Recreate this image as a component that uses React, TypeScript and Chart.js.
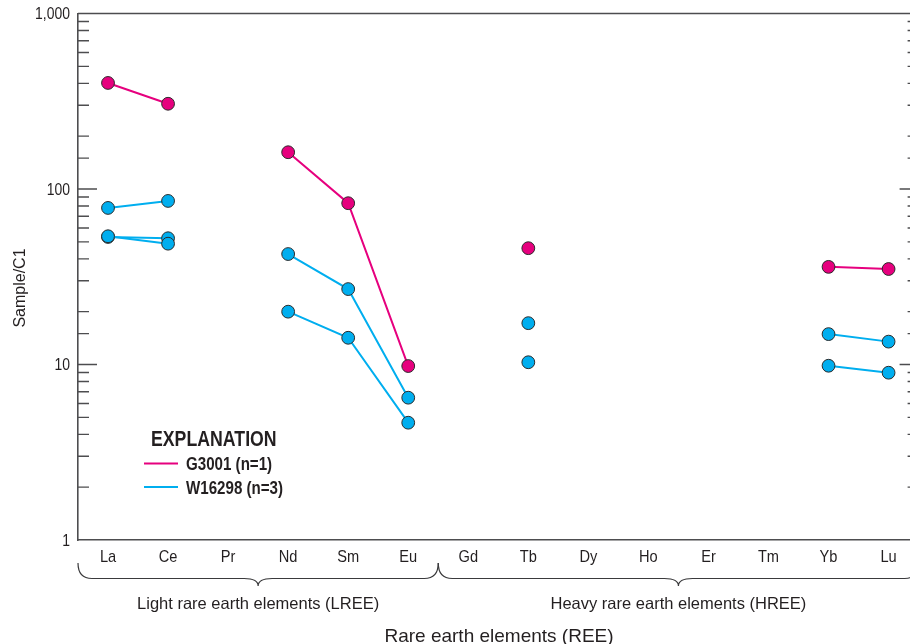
import React, { useEffect, useRef } from 'react';
import { Chart, registerables } from 'chart.js';

Chart.register(...registerables);

// ---------- data ----------
const elements = ['La', 'Ce', 'Pr', 'Nd', 'Sm', 'Eu', 'Gd', 'Tb', 'Dy', 'Ho', 'Er', 'Tm', 'Yb', 'Lu'];
const g3001 = [402, 306, null, 162, 83, 9.8, null, 46, null, null, null, null, 36, 35];
const w16298a = [78, 85.5, null, 42.6, 26.9, 6.47, null, 17.2, null, null, null, null, 14.9, 13.5];
const w16298b = [53.3, 52.4, null, 20.0, 14.2, 4.66, null, 10.3, null, null, null, null, 9.84, 8.98];
const w16298c = [53.8, 48.8, null, null, null, null, null, null, null, null, null, null, null, null];
const yTickValues = [1, 10, 100, 1000];
const yTickLabels = ['1', '10', '100', '1,000'];
const groupLabels = ['Light rare earth elements (LREE)', 'Heavy rare earth elements (HREE)'];
const groupFirst = [0, 6];
const groupLast = [5, 13];
const legendLabels = ['G3001 (n=1)', 'W16298 (n=3)'];
const legendTitle = 'EXPLANATION';
const xTitle = 'Rare earth elements (REE)';
const yTitle = 'Sample/C1';

const MAGENTA = '#E6007E';
const CYAN = '#00AEEF';
const seriesColors = [MAGENTA, CYAN];
const INK = '#231F20';
const AXIS = '#4D4D4F';

const FONT = "'Liberation Sans', Arial, sans-serif";

function condensedText(ctx: any, text: string, x: number, y: number, sx: number, align: string) {
  ctx.save();
  ctx.translate(x, y);
  ctx.scale(sx, 1);
  ctx.textAlign = align;
  ctx.fillText(text, 0, 0);
  ctx.restore();
}

const decorPlugin = {
  id: 'decor',
  beforeDatasetsDraw(chart: any) {
    const { ctx, chartArea } = chart;
    const y = chart.scales.y;
    ctx.save();
    ctx.strokeStyle = AXIS;
    ctx.lineWidth = 1.4;
    // top frame and right frame
    ctx.beginPath();
    ctx.moveTo(chartArea.left, chartArea.top);
    ctx.lineTo(chartArea.right, chartArea.top);
    ctx.lineTo(chartArea.right, chartArea.bottom);
    ctx.stroke();
    // inward tick marks on left and right
    y.ticks.forEach((t: any) => {
      const lg = Math.log10(t.value);
      const major = Math.abs(lg - Math.round(lg)) < 1e-6;
      const py = y.getPixelForValue(t.value);
      if (py <= chartArea.top + 1 || py >= chartArea.bottom - 1) return;
      const len = major ? 19 : 11;
      ctx.beginPath();
      ctx.moveTo(chartArea.left, py);
      ctx.lineTo(chartArea.left + len, py);
      ctx.moveTo(chartArea.right, py);
      ctx.lineTo(chartArea.right - len, py);
      ctx.stroke();
    });
    ctx.restore();
  },
  afterDraw(chart: any) {
    const { ctx, chartArea } = chart;
    const x = chart.scales.x;
    const y = chart.scales.y;
    const half = (x.getPixelForValue(1) - x.getPixelForValue(0)) / 2;
    ctx.save();
    ctx.fillStyle = INK;
    // tick labels
    ctx.font = `17px ${FONT}`;
    ctx.textBaseline = 'middle';
    yTickValues.forEach((v, i) => {
      condensedText(ctx, yTickLabels[i], chartArea.left - 8, y.getPixelForValue(v) + 1, 0.82, 'right');
    });
    ctx.textBaseline = 'alphabetic';
    elements.forEach((el, i) => {
      condensedText(ctx, el, x.getPixelForValue(i), 561.5, 0.86, 'center');
    });
    // braces
    ctx.strokeStyle = '#3A3A3C';
    ctx.lineWidth = 1.2;
    const yTop = 563;
    const yFlat = 578.5;
    const yTip = 586;
    const r = 14;
    groupLabels.forEach((label, i) => {
      const xl = x.getPixelForValue(groupFirst[i]) - half;
      const xr = x.getPixelForValue(groupLast[i]) + half;
      const xc = (xl + xr) / 2;
      ctx.beginPath();
      ctx.moveTo(xl, yTop);
      ctx.quadraticCurveTo(xl, yFlat, xl + r, yFlat);
      ctx.lineTo(xc - r, yFlat);
      ctx.quadraticCurveTo(xc, yFlat, xc, yTip);
      ctx.quadraticCurveTo(xc, yFlat, xc + r, yFlat);
      ctx.lineTo(xr - r, yFlat);
      ctx.quadraticCurveTo(xr, yFlat, xr, yTop);
      ctx.stroke();
      ctx.font = `16.5px ${FONT}`;
      ctx.textAlign = 'center';
      ctx.fillText(label, xc, 609);
    });
    // axis titles
    ctx.font = `19px ${FONT}`;
    ctx.textAlign = 'center';
    ctx.fillText(xTitle, 499, 642);
    ctx.save();
    ctx.translate(25, 288);
    ctx.rotate(-Math.PI / 2);
    ctx.font = `16px ${FONT}`;
    ctx.fillText(yTitle, 0, 0);
    ctx.restore();
    // legend
    ctx.font = `bold 22px ${FONT}`;
    condensedText(ctx, legendTitle, 151, 446, 0.805, 'left');
    ctx.font = `bold 18px ${FONT}`;
    legendLabels.forEach((lab, i) => {
      const ly = 463.5 + i * 23.5;
      ctx.strokeStyle = seriesColors[i];
      ctx.lineWidth = 2;
      ctx.beginPath();
      ctx.moveTo(144, ly);
      ctx.lineTo(178, ly);
      ctx.stroke();
      condensedText(ctx, lab, 186, ly + 6.5, 0.84, 'left');
    });
    ctx.restore();
  },
};

function makeDataset(data: (number | null)[], color: string) {
  return {
    data,
    borderColor: color,
    backgroundColor: color,
    borderWidth: 2,
    pointRadius: 6.4,
    pointBackgroundColor: color,
    pointBorderColor: '#2B2B2B',
    pointBorderWidth: 1,
    spanGaps: false,
    tension: 0,
  };
}

export default function App() {
  const ref = useRef<HTMLCanvasElement | null>(null);
  useEffect(() => {
    document.body.style.margin = '0';
    const canvas = ref.current!;
    const chart = new Chart(canvas, {
      type: 'line',
      data: {
        labels: elements,
        datasets: [
          makeDataset(w16298c, CYAN),
          makeDataset(w16298b, CYAN),
          makeDataset(w16298a, CYAN),
          makeDataset(g3001, MAGENTA),
        ],
      },
      options: {
        responsive: false,
        animation: false,
        devicePixelRatio: 1,
        layout: { padding: { top: 13.5, right: 2, left: 0, bottom: 0 } },
        plugins: { legend: { display: false }, tooltip: { enabled: false } },
        scales: {
          x: {
            type: 'category',
            offset: true,
            grid: { display: false, drawTicks: false },
            border: { display: true, color: AXIS, width: 1.6 },
            ticks: { display: false, autoSkip: false },
            afterFit: (s: any) => {
              s.height = 104;
              s.paddingLeft = 0;
              s.paddingRight = 0;
            },
          },
          y: {
            type: 'logarithmic',
            min: 1,
            max: 1000,
            grid: { display: false, drawTicks: false },
            border: { display: true, color: AXIS, width: 1.6 },
            ticks: { display: false, autoSkip: false },
            afterFit: (s: any) => {
              s.width = 78;
              s.paddingTop = 0;
              s.paddingBottom = 0;
            },
          },
        },
      },
      plugins: [decorPlugin],
    } as any);
    return () => chart.destroy();
  }, []);
  return (
    <div style={{ width: 910, height: 644, overflow: 'hidden', position: 'relative', background: '#fff' }}>
      <canvas ref={ref} width={926} height={644} style={{ width: 926, height: 644, display: 'block' }} />
    </div>
  );
}
